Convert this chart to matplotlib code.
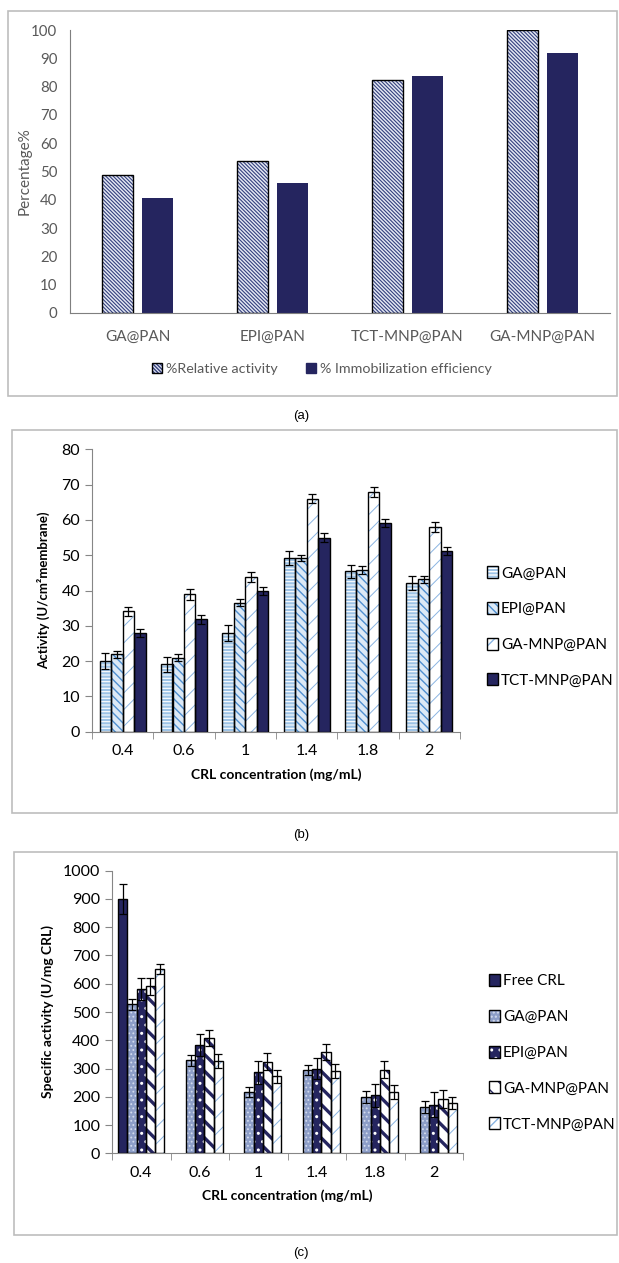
import numpy as np
import matplotlib
matplotlib.use("Agg")
import matplotlib.pyplot as plt
from matplotlib.patches import Patch, Rectangle

plt.rcParams['font.family'] = ['Lato', 'DejaVu Sans']

# ---- panel (a) data ----
a_groups = ["GA@PAN", "EPI@PAN", "TCT-MNP@PAN", "GA-MNP@PAN"]
a_relative = [48.6, 53.6, 82.2, 99.9]
a_immob = [40.8, 46.0, 83.9, 91.9]

# ---- panel (b) data ----
conc = ["0.4", "0.6", "1", "1.4", "1.8", "2"]
b_names = ["GA@PAN", "EPI@PAN", "GA-MNP@PAN", "TCT-MNP@PAN"]
b_vals = [
    [20.0, 19.1, 28.0, 49.2, 45.4, 42.1],
    [22.0, 21.0, 36.6, 49.2, 45.8, 43.2],
    [34.1, 38.9, 43.9, 66.0, 67.9, 58.0],
    [28.0, 31.9, 39.8, 55.0, 59.1, 51.2],
]
b_errs = [
    [2.2, 2.1, 2.2, 2.0, 1.8, 2.0],
    [1.0, 1.1, 1.1, 0.9, 1.0, 1.0],
    [1.2, 1.5, 1.4, 1.3, 1.5, 1.3],
    [1.2, 1.3, 1.2, 1.2, 1.2, 1.2],
]

# ---- panel (c) data ----
c_names = ["Free CRL", "GA@PAN", "EPI@PAN", "GA-MNP@PAN", "TCT-MNP@PAN"]
c_vals = [
    [900, 0, 0, 0, 0, 0],
    [527, 329, 218, 294, 199, 164],
    [580, 383, 287, 300, 205, 172],
    [591, 408, 324, 357, 296, 192],
    [652, 327, 272, 290, 216, 178],
]
c_errs = [
    [54, 0, 0, 0, 0, 0],
    [19, 20, 18, 18, 20, 21],
    [39, 38, 41, 37, 41, 44],
    [31, 28, 31, 28, 31, 31],
    [19, 25, 24, 25, 24, 21],
]

navy = "#25255f"
a_hatch = "\\" * 9

W, H = 619, 1263
fig = plt.figure(figsize=(W / 100, H / 100), dpi=100)


def ax_at(x0, x1, y0, y1):
    return fig.add_axes([x0 / W, 1 - y1 / H, (x1 - x0) / W, (y1 - y0) / H])


def box(x0, x1, y0, y1):
    fig.patches.append(Rectangle((x0 / W, 1 - y1 / H), (x1 - x0) / W, (y1 - y0) / H,
                                 transform=fig.transFigure, fill=False,
                                 edgecolor="#bdbdbd", linewidth=1.2))


def hbar(ax, x, h, w, fc, hc, hatch, hlw=1.0, yerr=None):
    bars = ax.bar(x, h, w, color=fc, edgecolor=hc, hatch=hatch, linewidth=0, zorder=2)
    for p in bars:
        if hasattr(p, "set_hatch_linewidth"):
            p.set_hatch_linewidth(hlw)
    ax.bar(x, h, w, fill=False, edgecolor="black", linewidth=1.0, zorder=3)
    if yerr is not None:
        ax.errorbar(x, h, yerr=yerr, fmt="none", ecolor="black", elinewidth=0.9,
                    capsize=3, capthick=0.9, zorder=4)


def handle(fc, hc, hatch):
    return (Patch(facecolor=fc, edgecolor=hc, hatch=hatch, linewidth=0),
            Patch(fill=False, edgecolor="black", linewidth=1.0))


# ================= panel (a) =================
box(8, 617, 11, 396)
axa = ax_at(70, 610, 30, 313)
xa = np.arange(len(a_groups))
hbar(axa, xa - 0.145, a_relative, 0.23, "#e4e8f3", "#34407e", a_hatch, 0.8)
axa.bar(xa + 0.145, a_immob, 0.23, color=navy, zorder=2)
axa.set_xlim(-0.5, 3.5)
axa.set_ylim(0, 100)
axa.set_yticks(range(0, 101, 10))
axa.set_xticks(xa)
axa.set_xticklabels(a_groups)
for s in ["top", "right"]:
    axa.spines[s].set_visible(False)
axa.spines["left"].set_color("#7f7f7f")
axa.spines["bottom"].set_color("#7f7f7f")
axa.tick_params(axis="both", length=0, labelsize=10.8, colors="#595959", pad=9)
axa.tick_params(axis="x", labelsize=11, pad=12)
axa.set_ylabel("Percentage%", fontsize=11, color="#595959")
axa.yaxis.set_label_coords(-38 / 540, 0.5)
fig.legend([handle("#e4e8f3", "#34407e", a_hatch), Patch(color=navy)],
           ["%Relative activity", "% Immobilization efficiency"],
           loc="center", bbox_to_anchor=(322 / W, 1 - 369 / H), ncol=2,
           frameon=False, fontsize=10.3, labelcolor="#595959",
           handlelength=0.65, handleheight=0.65, handletextpad=0.3, columnspacing=2.0)
fig.text(301 / W, 1 - 416 / H, "(a)", ha="center", va="center", fontsize=9.5,
         family=["Liberation Sans", "DejaVu Sans"])

# ================= panel (b) =================
box(12, 617, 430, 813)
axb = ax_at(92, 460, 449.3, 731.7)
xb = np.arange(len(conc))
b_styles = [
    ("#9dc3e6", "white", "-----", 0.8),
    ("#dce9f6", "#4f8fd0", "\\\\\\\\", 1.0),
    ("white", "#8ab4e2", "//", 0.7),
    (navy, navy, None, 1.0),
]
bw = 0.1875
for i, (vals, errs) in enumerate(zip(b_vals, b_errs)):
    fc, hc, ht, hl = b_styles[i]
    hbar(axb, xb + (i - 1.5) * bw, vals, bw, fc, hc, ht, hl, yerr=errs)
axb.set_xlim(-0.5, 5.5)
axb.set_ylim(0, 80)
axb.set_yticks(range(0, 81, 10))
axb.set_xticks(xb)
axb.set_xticklabels(conc)
axb.set_xticks(np.arange(-0.5, 6.0, 1.0), minor=True)
for s in ["top", "right"]:
    axb.spines[s].set_visible(False)
axb.spines["left"].set_color("#868686")
axb.spines["bottom"].set_color("#868686")
axb.tick_params(axis="x", which="major", length=0, labelsize=11.5, pad=9)
axb.tick_params(axis="x", which="minor", length=5, color="#868686", direction="out")
axb.tick_params(axis="y", length=5, color="#868686", labelsize=11.5)
axb.set_xlabel("CRL concentration (mg/mL)", fontsize=10, fontweight="bold", labelpad=7)
axb.set_ylabel("Activity (U/cm²membrane)", fontsize=9.5, fontweight="bold", labelpad=8)
fig.legend([handle(*s[:3]) if s[2] else Patch(facecolor=navy, edgecolor="black")
            for s in b_styles], b_names,
           loc="upper left", bbox_to_anchor=(487 / W, 1 - 566 / H), frameon=False,
           fontsize=11, handlelength=0.7, handleheight=0.85, handletextpad=0.2,
           labelspacing=1.4, borderaxespad=0, borderpad=0)
fig.text(301 / W, 1 - 835 / H, "(b)", ha="center", va="center", fontsize=9.5,
         family=["Liberation Sans", "DejaVu Sans"])

# ================= panel (c) =================
box(14, 617, 852, 1235)
axc = ax_at(112, 463, 870.7, 1153.3)
xc = np.arange(len(conc))
c_styles = [
    (navy, navy, None, 1.0),
    ("#8d9ec8", "#d3dbee", "....", 0.8),
    (navy, "white", "..", 1.0),
    ("white", navy, "\\\\", 2.4),
    ("white", "#8ab4e2", "//", 0.7),
]
cw = 0.157
for i, (vals, errs) in enumerate(zip(c_vals, c_errs)):
    fc, hc, ht, hl = c_styles[i]
    pos = xc + (i - 2) * cw
    keep = [k for k, v in enumerate(vals) if v > 0]
    hbar(axc, pos[keep], [vals[k] for k in keep], cw, fc, hc, ht, hl,
         yerr=[errs[k] for k in keep])
axc.set_xlim(-0.5, 5.5)
axc.set_ylim(0, 1000)
axc.set_yticks(range(0, 1001, 100))
axc.set_xticks(xc)
axc.set_xticklabels(conc)
axc.set_xticks(np.arange(-0.5, 6.0, 1.0), minor=True)
for s in ["top", "right"]:
    axc.spines[s].set_visible(False)
axc.spines["left"].set_color("#868686")
axc.spines["bottom"].set_color("#868686")
axc.tick_params(axis="x", which="major", length=0, labelsize=11.5, pad=9)
axc.tick_params(axis="x", which="minor", length=5, color="#868686", direction="out")
axc.tick_params(axis="y", length=5, color="#868686", labelsize=11.5)
axc.set_xlabel("CRL concentration (mg/mL)", fontsize=10, fontweight="bold", labelpad=7)
axc.set_ylabel("Specific activity (U/mg CRL)", fontsize=10, fontweight="bold", labelpad=6)
fig.legend([handle(*s[:3]) if s[2] else Patch(facecolor=navy, edgecolor="black")
            for s in c_styles], c_names,
           loc="upper left", bbox_to_anchor=(489 / W, 1 - 974 / H), frameon=False,
           fontsize=11, handlelength=0.7, handleheight=0.85, handletextpad=0.2,
           labelspacing=1.4, borderaxespad=0, borderpad=0)
fig.text(301 / W, 1 - 1253 / H, "(c)", ha="center", va="center", fontsize=9.5,
         family=["Liberation Sans", "DejaVu Sans"])

fig.savefig("out.png", dpi=100)
